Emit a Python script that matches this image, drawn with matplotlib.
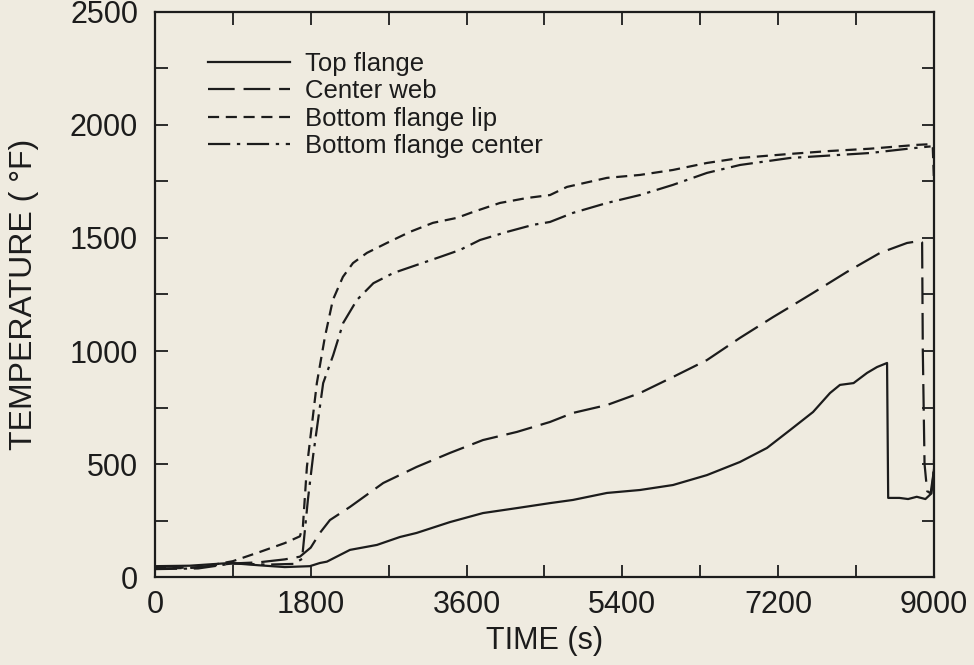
import matplotlib
matplotlib.use("Agg")
import matplotlib.pyplot as plt
from matplotlib.ticker import MultipleLocator

plt.rcParams['font.family'] = ['Liberation Sans', 'DejaVu Sans']

# Time (s) and temperature (°F) readings for each thermocouple location
top_flange_t = [0, 400, 866, 1200, 1500, 1790, 1906, 1987, 2253, 2565, 2830, 3023, 3408,
                3790, 4182, 4564, 4829, 5222, 5603, 5984, 6377, 6758, 7070, 7336, 7602,
                7798, 7913, 8070, 8226, 8341, 8457, 8470, 8600, 8700, 8800, 8900, 8970, 9000]
top_flange_T = [48, 50, 62, 52, 44, 48, 62, 68, 120, 142, 177, 195, 243,
                283, 305, 327, 341, 372, 385, 407, 451, 509, 571, 650, 730,
                814, 850, 858, 903, 929, 947, 350, 350, 345, 355, 345, 370, 480]

center_web_t = [0, 400, 900, 1200, 1500, 1675, 1800, 1906, 2022, 2253, 2638, 3023, 3408,
                3790, 4182, 4564, 4829, 5222, 5603, 5984, 6377, 6758, 7140, 7336, 7602,
                7994, 8376, 8688, 8838, 8862, 8870, 8890, 8920, 8960, 8990, 9000]
center_web_T = [38, 40, 60, 65, 78, 90, 130, 195, 252, 310, 416, 487, 549,
                606, 642, 686, 726, 761, 814, 885, 960, 1058, 1150, 1195, 1257,
                1350, 1434, 1478, 1487, 1480, 1000, 500, 380, 370, 450, 520]

lip_t = [0, 500, 900, 1213, 1500, 1675, 1710, 1756, 1871, 1964, 2056, 2172, 2288, 2449,
         2680, 2946, 3212, 3489, 3674, 3986, 4298, 4564, 4760, 5222, 5603, 5984, 6377,
         6758, 7336, 7800, 8260, 8800, 8960, 8985, 9000]
lip_T = [40, 42, 70, 111, 150, 180, 225, 487, 858, 1062, 1226, 1328, 1389, 1434,
         1478, 1527, 1567, 1589, 1615, 1655, 1677, 1690, 1726, 1766, 1779, 1801, 1832,
         1854, 1872, 1885, 1895, 1912, 1915, 1900, 1745]

bfc_t = [0, 500, 900, 1300, 1600, 1700, 1767, 1829, 1944, 2060, 2175, 2334, 2524, 2754,
         3027, 3293, 3524, 3755, 4067, 4367, 4564, 4829, 5222, 5603, 5984, 6377, 6758,
         7336, 7800, 8260, 8700, 8900, 8960]
bfc_T = [35, 38, 60, 55, 58, 80, 340, 540, 858, 982, 1124, 1226, 1300, 1345,
         1381, 1416, 1447, 1491, 1527, 1558, 1571, 1611, 1655, 1690, 1735, 1788, 1823,
         1854, 1865, 1876, 1895, 1903, 1905]

series_labels = ["Top flange", "Center web", "Bottom flange lip", "Bottom flange center"]
x_ticks = [0, 1800, 3600, 5400, 7200, 9000]
y_ticks = [0, 500, 1000, 1500, 2000, 2500]

bg = "#efebe0"
ink = "#1c1c1c"

fig = plt.figure(figsize=(9.74, 6.65), dpi=100, facecolor=bg)
ax = fig.add_axes([0.159, 0.1323, 0.8, 0.8497], facecolor=bg)

lw = 1.6
ax.plot(top_flange_t, top_flange_T, color=ink, lw=lw, ls='-', label=series_labels[0])
ax.plot(center_web_t, center_web_T, color=ink, lw=lw, ls=(0, (12, 4)), label=series_labels[1])
ax.plot(lip_t, lip_T, color=ink, lw=lw, ls=(0, (5, 3)), label=series_labels[2])
ax.plot(bfc_t, bfc_T, color=ink, lw=lw, ls=(0, (10, 3, 1.5, 3)), label=series_labels[3])

ax.set_xlim(0, 9000)
ax.set_ylim(0, 2500)
ax.set_xticks(x_ticks)
ax.set_yticks(y_ticks)
ax.xaxis.set_minor_locator(MultipleLocator(900))
ax.yaxis.set_minor_locator(MultipleLocator(250))
ax.tick_params(which='both', direction='in', length=9, width=1.3, color=ink,
               top=True, right=True, labelsize=22, labelcolor=ink)
ax.tick_params(axis='x', pad=9)
ax.tick_params(axis='y', pad=12)
for s in ax.spines.values():
    s.set_linewidth(1.6)
    s.set_color(ink)

ax.set_xlabel("TIME (s)", fontsize=22, color=ink, labelpad=5)
ax.set_ylabel("TEMPERATURE ( °F)", fontsize=23, color=ink, labelpad=22)

leg = ax.legend(loc='upper left', bbox_to_anchor=(0.068, 0.93), frameon=False,
                fontsize=18.5, handlelength=3.2, handletextpad=0.6, labelspacing=0.14,
                borderaxespad=0, borderpad=0)
for t in leg.get_texts():
    t.set_color(ink)

fig.savefig("out.png", dpi=100, facecolor=bg)
